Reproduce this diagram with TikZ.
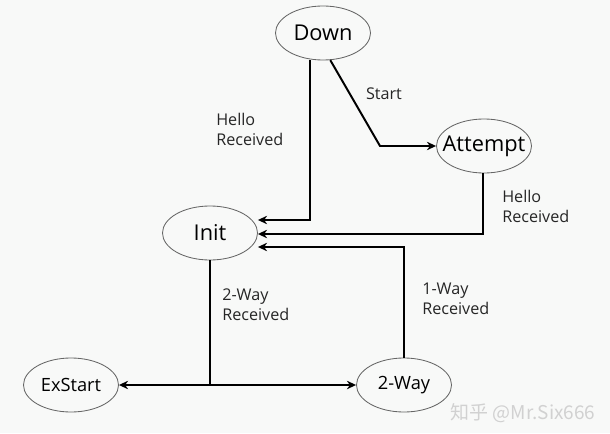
\documentclass[tikz,border=0pt]{standalone}
\usepackage{fontspec}
\setmainfont{Open Sans}
\newfontfamily\cjkfont{Noto Sans CJK SC}
\usetikzlibrary{arrows.meta,calc,shapes.geometric}
\definecolor{paper}{RGB}{248,249,248}
\newcommand{\statename}[1]{\makebox[0pt]{#1}}

\begin{document}
\begin{tikzpicture}[
  x=0.025cm,
  y=-0.025cm,
  font=\fontsize{11.5}{14.2}\selectfont,
  >={Stealth[length=6.5pt,width=6pt]},
  statebox/.style={draw=black!60, line width=0.6pt, ellipse, minimum width=2.375cm, minimum height=1.35cm, inner sep=0pt, font=\fontsize{15.5}{18}\selectfont},
  smallstate/.style={statebox, font=\fontsize{13}{16}\selectfont},
  cond/.style={align=left, anchor=west, inner sep=0pt, text=black!85},
  link/.style={->, line width=1.4pt},
  trunk/.style={line width=1.4pt}
]
  \fill[paper] (0,0) rectangle (610,433);

  \node[statebox] (down) at (323,33) {\statename{Down}};
  \node[statebox] (attempt) at (484,146) {\statename{Attempt}};
  \node[statebox] (init) at (210,233) {\statename{Init}};
  \node[smallstate] (exstart) at (71,385) {\statename{ExStart}};
  \node[smallstate] (twoway) at (404,385) {\statename{2-Way}};

  \node[inner sep=0pt, text=black!85] (start) at (384,94) {Start};
  \node[cond] (helloL) at (216,129) {Hello\\Received};
  \node[cond] (helloR) at (502,206) {Hello\\Received};
  \node[cond] (tworcv) at (222,305) {2-Way\\Received};
  \node[cond] (onercv) at (422,299) {1-Way\\Received};

  \coordinate (bend) at (380,146);
  \coordinate (split) at (init.south |- exstart.east);

  \draw[link] ($(down.south)+(-13,0)$) |- ($(init.east)+(0,-13)$);
  \draw[link] (down.-75) -- (bend |- attempt.west) -- (attempt.west);
  \draw[link] ($(attempt.south)+(-1,0)$) |- ($(init.east)+(0,1)$);
  \draw[link] (twoway.north) |- ($(init.east)+(0,14)$);
  \draw[trunk] (init.south) -- (split);
  \draw[link] (split) -- (exstart.east);
  \draw[link] (split) -- (twoway.west);

  \node[text=black!18, font=\cjkfont\fontsize{13.5}{16}\selectfont] (mark) at (523,413) {知乎 @Mr.Six666};
\end{tikzpicture}
\end{document}
